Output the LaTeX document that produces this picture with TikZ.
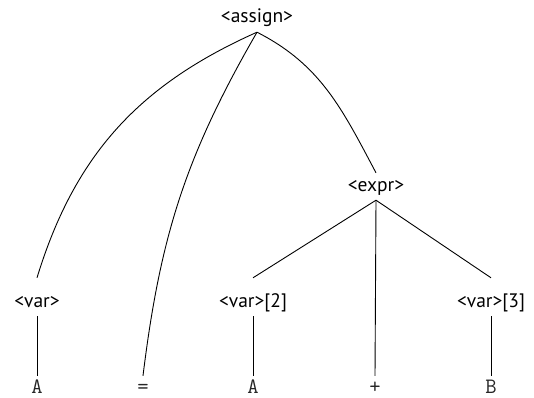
\documentclass[tikz,border=0pt]{standalone}
\usepackage{fontspec}
\setsansfont{PT Sans}

\begin{document}
\begin{tikzpicture}[
  x=1pt,y=1pt,
  edge/.style={black,line width=.9pt},
  nonterm/.style={font=\sffamily\fontsize{19.5}{22}\selectfont,anchor=base,inner xsep=0pt,inner ysep=9pt,text height=9pt,text depth=0pt},
  leafvar/.style={nonterm,text height=20pt},
  term/.style={font=\ttfamily\fontsize{22}{24}\selectfont,text=black!85,anchor=base,inner xsep=0pt,inner ysep=0pt,text height=17pt,text depth=0pt}
]
\useasboundingbox (0,0) rectangle (534,397);
\node[nonterm] (assign) at (257,374) {<assign>};
\node[nonterm] (expr) at (376,206) {<expr>};
\node[leafvar] (var1) at (37,90) {<var>};
\node[leafvar] (var2) at (253,90) {<var>[2]};
\node[leafvar] (var3) at (491,90) {<var>[3]};
\node[term] (a1) at (37,4) {A};
\node[term] (eq) at (143,4) {=};
\node[term] (a2) at (253,4) {A};
\node[term] (plus) at (375,4) {+};
\node[term] (b) at (491,4) {B};
\draw[edge] (assign.south) to[out=204,in=73] (var1.north);
\draw[edge] (assign.south) to[out=240,in=83] (eq.north);
\draw[edge] (assign.south) to[out=333,in=118] (expr.north);
\draw[edge] (expr.south) -- (var2.north);
\draw[edge] (expr.south) -- (plus.north);
\draw[edge] (expr.south) -- (var3.north);
\draw[edge] (var1.south) -- (a1.north);
\draw[edge] (var2.south) -- (a2.north);
\draw[edge] (var3.south) -- (b.north);
\end{tikzpicture}
\end{document}
